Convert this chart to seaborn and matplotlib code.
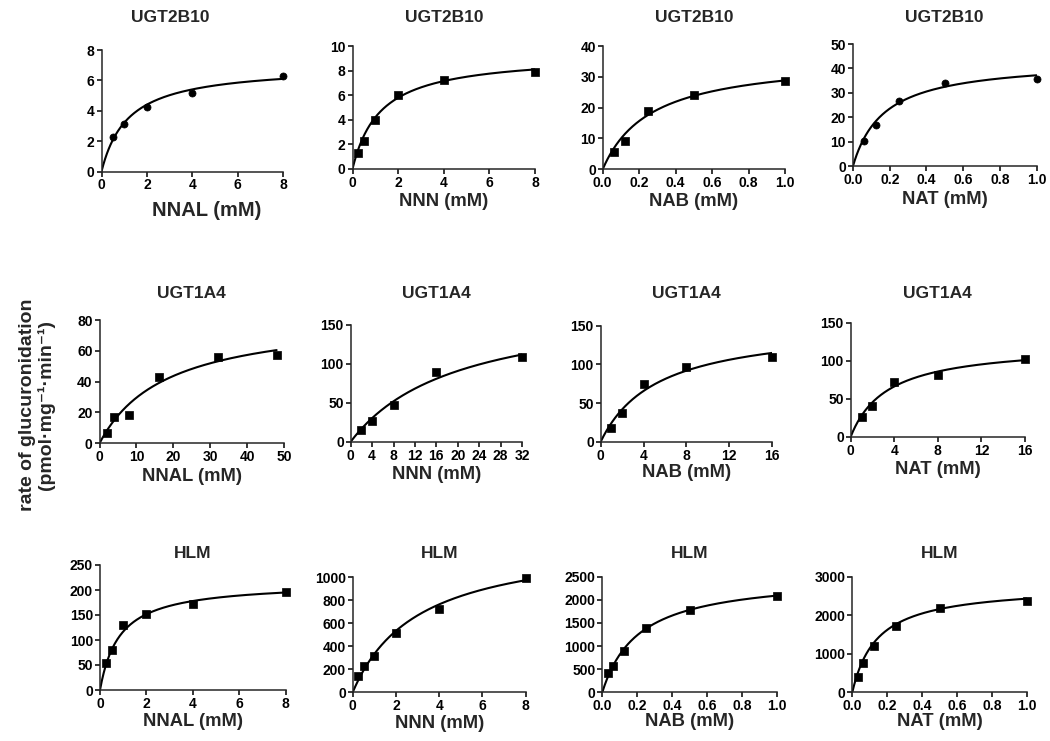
import numpy as np
import matplotlib
matplotlib.use("Agg")
import matplotlib.pyplot as plt
import seaborn as sns

# ---------------- data ----------------
enzymes = ["UGT2B10"] * 4 + ["UGT1A4"] * 4 + ["HLM"] * 4
substrates = ["NNAL", "NNN", "NAB", "NAT"] * 3

# UGT2B10
x_2b10_nnal = [0.5, 1, 2, 4, 8]
y_2b10_nnal = [2.3, 3.1, 4.25, 5.15, 6.3]
x_2b10_nnn = [0.25, 0.5, 1, 2, 4, 8]
y_2b10_nnn = [1.3, 2.3, 4.0, 6.05, 7.2, 7.85]
x_2b10_nab = [0.0625, 0.125, 0.25, 0.5, 1.0]
y_2b10_nab = [5.7, 9.2, 18.8, 24.2, 28.5]
x_2b10_nat = [0.0625, 0.125, 0.25, 0.5, 1.0]
y_2b10_nat = [10.2, 17.0, 26.5, 34.2, 35.8]

# UGT1A4
x_1a4_nnal = [2, 4, 8, 16, 32, 48]
y_1a4_nnal = [7, 17, 18.5, 43, 56, 57]
x_1a4_nnn = [2, 4, 8, 16, 32]
y_1a4_nnn = [15, 26, 47, 90, 109]
x_1a4_nab = [1, 2, 4, 8, 16]
y_1a4_nab = [18, 37, 74, 96, 110]
x_1a4_nat = [1, 2, 4, 8, 16]
y_1a4_nat = [26, 41, 72, 81, 102]

# HLM
x_hlm_nnal = [0.25, 0.5, 1, 2, 4, 8]
y_hlm_nnal = [55, 80, 130, 152, 172, 197]
x_hlm_nnn = [0.25, 0.5, 1, 2, 4, 8]
y_hlm_nnn = [145, 225, 320, 515, 725, 990]
x_hlm_nab = [0.03125, 0.0625, 0.125, 0.25, 0.5, 1.0]
y_hlm_nab = [420, 570, 900, 1380, 1780, 2090]
x_hlm_nat = [0.03125, 0.0625, 0.125, 0.25, 0.5, 1.0]
y_hlm_nat = [400, 750, 1200, 1720, 2180, 2370]

# Michaelis-Menten fit parameters (estimated from the drawn fit curves)
vmax = [7.0, 9.33, 36.5, 43.5,
        83.4, 182.0, 153.0, 122.0,
        215.6, 1344.0, 2530.0, 2777.0]
km = [1.18, 1.22, 0.266, 0.17,
      18.2, 20.0, 5.33, 3.38,
      0.845, 3.03, 0.21, 0.143]

xs_data = [x_2b10_nnal, x_2b10_nnn, x_2b10_nab, x_2b10_nat,
           x_1a4_nnal, x_1a4_nnn, x_1a4_nab, x_1a4_nat,
           x_hlm_nnal, x_hlm_nnn, x_hlm_nab, x_hlm_nat]
ys_data = [y_2b10_nnal, y_2b10_nnn, y_2b10_nab, y_2b10_nat,
           y_1a4_nnal, y_1a4_nnn, y_1a4_nab, y_1a4_nat,
           y_hlm_nnal, y_hlm_nnn, y_hlm_nab, y_hlm_nat]

markers = ["o", "s", "s", "o"] + ["s"] * 8

x_ticks = [np.arange(0, 9, 2), np.arange(0, 9, 2), np.arange(0, 1.01, 0.2), np.arange(0, 1.01, 0.2),
           np.arange(0, 51, 10), np.arange(0, 33, 4), np.arange(0, 17, 4), np.arange(0, 17, 4),
           np.arange(0, 9, 2), np.arange(0, 9, 2), np.arange(0, 1.01, 0.2), np.arange(0, 1.01, 0.2)]
y_ticks = [np.arange(0, 9, 2), np.arange(0, 11, 2), np.arange(0, 41, 10), np.arange(0, 51, 10),
           np.arange(0, 81, 20), np.arange(0, 151, 50), np.arange(0, 151, 50), np.arange(0, 151, 50),
           np.arange(0, 251, 50), np.arange(0, 1001, 200), np.arange(0, 2501, 500), np.arange(0, 3001, 1000)]
x_fmt = ["{:.0f}", "{:.0f}", "{:.1f}", "{:.1f}",
         "{:.0f}", "{:.0f}", "{:.0f}", "{:.0f}",
         "{:.0f}", "{:.0f}", "{:.1f}", "{:.1f}"]

# ---------------- layout (pixels in a 1050x741 canvas) ----------------
W, H = 1050, 741
# left, right, top, bottom of each plotting area
boxes = [(101.5, 283, 50, 171.5), (352.5, 535, 46, 169), (602.7, 785, 46, 169.3), (853, 1036.5, 44, 166),
         (99.5, 284, 320, 443.3), (350.7, 522, 325, 441.7), (600.7, 772, 325.7, 441.7), (850.7, 1025, 322.7, 436.7),
         (100, 285.7, 565, 690), (352.7, 525.7, 577.3, 692.3), (602.3, 776.7, 576.7, 692.3), (852.3, 1026.7, 576.7, 692.3)]
title_y = [18] * 4 + [293] * 4 + [553] * 4
title_x_shift = [-22, 0, 0, 0, 0, 0, 0, 0, 0, 0, 0, 0]
xlabel_y = [210, 201.7, 201.7, 200, 476.7, 474, 472.7, 470, 721.7, 723, 722, 722]
xlabel_x_shift = [14, 0, 0, 0, 0, 0, 0, 0, 0, 0, 0, 0]
xlabel_size = [14.5] + [13.2] * 11

sns.set_style("ticks")
plt.rcParams["font.family"] = ["Liberation Sans", "DejaVu Sans"]
plt.rcParams["font.weight"] = "bold"
plt.rcParams["axes.linewidth"] = 1.1

fig = plt.figure(figsize=(W / 100, H / 100), dpi=100)

for i in range(12):
    l, r, t, b = boxes[i]
    ax = fig.add_axes([l / W, 1 - b / H, (r - l) / W, (b - t) / H])
    xd = np.array(xs_data[i])
    yd = np.array(ys_data[i])
    xc = np.linspace(0, xd.max(), 300)
    yc = vmax[i] * xc / (km[i] + xc)
    sns.lineplot(x=xc, y=yc, color="black", linewidth=1.5, ax=ax,
                 estimator=None, sort=False)
    sns.scatterplot(x=xd, y=yd, marker=markers[i], s=26, color="black",
                    edgecolor="black", linewidth=0.5, ax=ax, clip_on=False, zorder=3)
    ax.set_xlim(x_ticks[i][0], x_ticks[i][-1])
    ax.set_ylim(y_ticks[i][0], y_ticks[i][-1])
    ax.set_xticks(x_ticks[i])
    ax.set_xticklabels([x_fmt[i].format(v) for v in x_ticks[i]])
    ax.set_yticks(y_ticks[i])
    ax.set_yticklabels(["{:.0f}".format(v) for v in y_ticks[i]])
    ax.tick_params(axis="both", direction="out", length=3.5, width=1.1,
                   labelsize=10, pad=1.5, colors="black")
    for lab in ax.get_xticklabels() + ax.get_yticklabels():
        lab.set_fontweight("bold")
    sns.despine(ax=ax)
    ax.set_xlabel("")
    ax.set_ylabel("")
    cx = (l + r) / 2
    fig.text((cx + title_x_shift[i]) / W, 1 - title_y[i] / H, enzymes[i],
             ha="center", va="center", fontsize=12.5, fontweight="bold")
    fig.text((cx + xlabel_x_shift[i]) / W, 1 - xlabel_y[i] / H,
             substrates[i] + " (mM)", ha="center", va="center",
             fontsize=xlabel_size[i], fontweight="bold")

fig.text(37 / W, 1 - 405 / H, "rate of glucuronidation\n(pmol·mg⁻¹·min⁻¹)",
         rotation=90, ha="center", va="center", multialignment="center",
         fontsize=14, fontweight="bold", linespacing=1.15)

fig.savefig("out.png", dpi=100, facecolor="white")
